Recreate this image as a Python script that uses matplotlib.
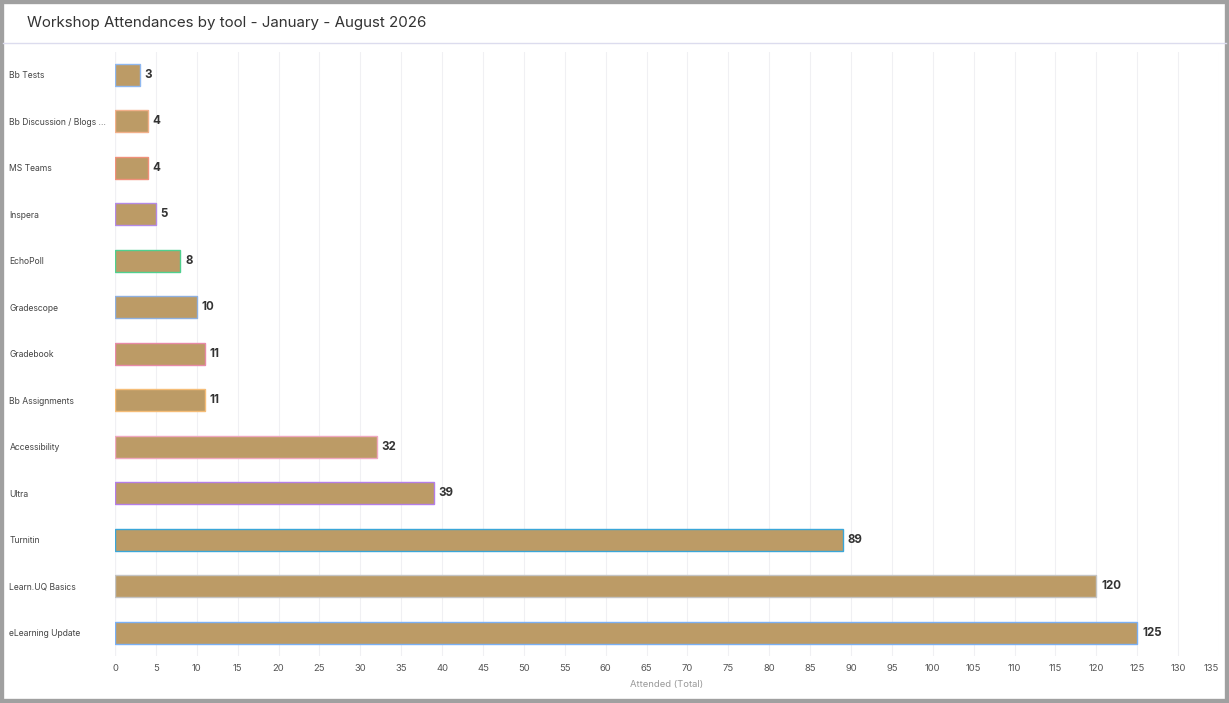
import matplotlib
matplotlib.use("Agg")
import matplotlib.pyplot as plt
from matplotlib.patches import Rectangle
from matplotlib.lines import Line2D

categories = ["Bb Tests", "Bb Discussion / Blogs ...", "MS Teams", "Inspera", "EchoPoll",
              "Gradescope", "Gradebook", "Bb Assignments", "Accessibility", "Ultra",
              "Turnitin", "Learn.UQ Basics", "eLearning Update"]
values = [3, 4, 4, 5, 8, 10, 11, 11, 32, 39, 89, 120, 125]
edge_colors = ["#8fb8f0", "#f2b08a", "#f0907a", "#b48ae6", "#4fd08f", "#8fb0e0", "#e88aa8",
               "#f5bd78", "#f0a8c0", "#b47ee8", "#3aa6d8", "#c4c4c4", "#7ab0f5"]
title = "Workshop Attendances by tool - January - August 2026"
xlabel = "Attended (Total)"
xticks = list(range(0, 136, 5))

plt.rcParams['font.family'] = ['Inter', 'DejaVu Sans']

fig = plt.figure(figsize=(12.29, 7.03), dpi=100)
fig.patch.set_facecolor("white")

# outer frame
fig.add_artist(Rectangle((0, 0), 1, 1, transform=fig.transFigure, fill=False,
                         edgecolor="#a0a0a0", linewidth=6))
# header separator
fig.add_artist(Line2D([3/1229, 1226/1229], [1 - 42.5/703, 1 - 42.5/703],
                      transform=fig.transFigure, color="#dcdcee", linewidth=1))
fig.text(27/1229, 1 - 22.5/703, title, fontsize=10.9, color="#333333", va="center", ha="left")

ax = fig.add_axes([115/1229, 1 - 656/703, (1219 - 115)/1229, (656 - 51.5)/703])
ypos = list(range(len(categories)))
bars = ax.barh(ypos, values, height=0.47, color="#bc9b66", linewidth=1)
for b, ec in zip(bars, edge_colors):
    b.set_edgecolor(ec)

ax.set_xlim(0, 135)
ax.set_ylim(len(categories) - 0.5, -0.5)
ax.set_xticks(xticks)
ax.set_xticklabels([str(t) for t in xticks], fontsize=6.8, color="#555555")
ax.get_xticklabels()[-1].set_ha("right")
ax.set_yticks(ypos)
ax.set_yticklabels(categories, fontsize=6.2, color="#444444", ha="left")
ax.tick_params(axis="y", length=0, pad=76)
ax.tick_params(axis="x", length=0, pad=6)
ax.grid(axis="x", color="#f0f0f3", linewidth=0.8)
ax.set_axisbelow(True)
for s in ax.spines.values():
    s.set_visible(False)
ax.axvline(0, color="#e6e6f0", linewidth=0.8, zorder=0.5)
ax.set_xlabel(xlabel, fontsize=6.8, color="#999999", labelpad=5)

for y, v in zip(ypos, values):
    ax.annotate(str(v), (v, y), xytext=(3.5, 0), textcoords="offset points",
                va="center", ha="left", fontsize=8.3, fontweight="bold", color="#333333")

fig.savefig("out.png", dpi=100, facecolor="white")
